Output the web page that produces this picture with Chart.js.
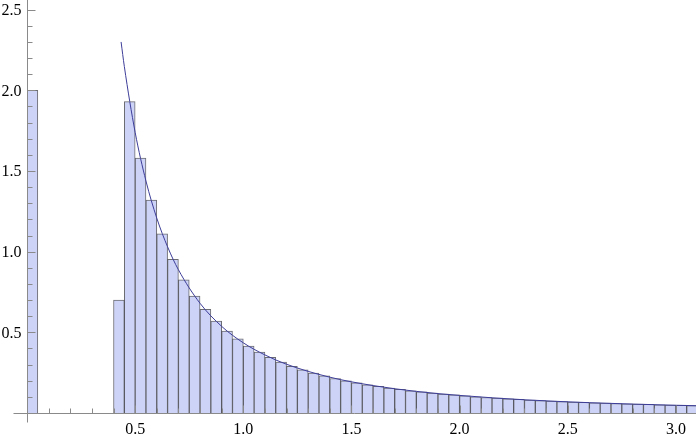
<!DOCTYPE html>
<html>
<head>
<meta charset="utf-8">
<script src="https://cdn.jsdelivr.net/npm/chart.js@4"></script>
<style>html,body{margin:0;padding:0;background:#fff;}canvas{display:block;}</style>
</head>
<body>
<canvas id="c" width="696" height="435"></canvas>
<script>
// Histogram bins: left edges and heights (bin width 0.05)
const binWidth = 0.05;
const binStarts = [0.00,
  0.40,0.45,0.50,0.55,0.60,0.65,0.70,0.75,0.80,0.85,0.90,0.95,
  1.00,1.05,1.10,1.15,1.20,1.25,1.30,1.35,1.40,1.45,1.50,1.55,
  1.60,1.65,1.70,1.75,1.80,1.85,1.90,1.95,2.00,2.05,2.10,2.15,
  2.20,2.25,2.30,2.35,2.40,2.45,2.50,2.55,2.60,2.65,2.70,2.75,
  2.80,2.85,2.90,2.95,3.00,3.05];
const binHeights = [2.00,
  0.70,1.93,1.58,1.32,1.11,0.953,0.826,0.725,0.642,0.570,0.508,0.460,
  0.415,0.377,0.345,0.315,0.290,0.268,0.248,0.230,0.214,0.200,0.187,0.175,
  0.165,0.155,0.146,0.138,0.131,0.124,0.117,0.112,0.106,0.101,0.096,0.092,
  0.088,0.084,0.080,0.077,0.074,0.071,0.068,0.066,0.063,0.061,0.059,0.057,
  0.055,0.053,0.051,0.049,0.048,0.046];
// Density curve
const curveX = [0.435,0.45,0.50,0.55,0.60,0.65,0.70,0.80,0.90,1.00,1.10,1.20,1.40,1.60,1.80,2.00,2.30,2.60,3.00,3.10];
const curveY = [2.30,2.148,1.74,1.438,1.208,1.030,0.888,0.680,0.537,0.435,0.360,0.302,0.222,0.170,0.134,0.109,0.082,0.064,0.048,0.045];
// Axis ranges and ticks
const xMin = 0, xMax = 3.093, yMin = 0, yMax = 2.56;
const xMinorTicks = [0.1,0.2,0.3,0.4,0.6,0.7,0.8,0.9,1.1,1.2,1.3,1.4,1.6,1.7,1.8,1.9,2.1,2.2,2.3,2.4,2.6,2.7,2.8,2.9,3.1];
const xMajorTicks = [0.5,1.0,1.5,2.0,2.5,3.0];
const xTickLabels = ['0.5','1.0','1.5','2.0','2.5','3.0'];
const yMinorTicks = [0.1,0.2,0.3,0.4,0.6,0.7,0.8,0.9,1.1,1.2,1.3,1.4,1.6,1.7,1.8,1.9,2.1,2.2,2.3,2.4];
const yMajorTicks = [0.5,1.0,1.5,2.0,2.5];
const yTickLabels = ['0.5','1.0','1.5','2.0','2.5'];

const barData = binStarts.map((s,i)=>({x: s + binWidth/2, y: binHeights[i]}));
const lineData = curveX.map((x,i)=>({x, y: curveY[i]}));

const axisColor = '#8a8a8a';
const labelFont = '16px "Liberation Serif", Tinos, "Times New Roman", "DejaVu Serif", serif';
const axesPlugin = {
  id: 'mmaAxes',
  afterDatasetsDraw(chart) {
    const ctx = chart.ctx;
    const xs = chart.scales.x, ys = chart.scales.y;
    const x0 = Math.round(xs.getPixelForValue(0)) + 0.5;
    const y0 = Math.round(ys.getPixelForValue(0)) + 0.5;
    ctx.save();
    ctx.strokeStyle = axisColor;
    ctx.lineWidth = 1;
    ctx.beginPath();
    ctx.moveTo(x0 - 14, y0); ctx.lineTo(chart.width, y0);
    ctx.moveTo(x0, 0); ctx.lineTo(x0, y0 + 9);
    const tick = (v, len, vertical) => {
      if (vertical) {
        const py = Math.round(ys.getPixelForValue(v)) + 0.5;
        ctx.moveTo(x0, py); ctx.lineTo(x0 + len, py);
      } else {
        const px = Math.round(xs.getPixelForValue(v)) + 0.5;
        ctx.moveTo(px, y0); ctx.lineTo(px, y0 - len);
      }
    };
    yMinorTicks.forEach(v => tick(v, 5, true));
    yMajorTicks.forEach(v => tick(v, 8, true));
    xMinorTicks.forEach(v => tick(v, 5, false));
    xMajorTicks.forEach(v => tick(v, 8, false));
    ctx.stroke();
    ctx.fillStyle = '#000';
    ctx.font = labelFont;
    ctx.textAlign = 'right';
    ctx.textBaseline = 'middle';
    yMajorTicks.forEach((v, i) => ctx.fillText(yTickLabels[i], x0 - 6, ys.getPixelForValue(v) + 1));
    ctx.textAlign = 'center';
    ctx.textBaseline = 'alphabetic';
    xMajorTicks.forEach((v, i) => ctx.fillText(xTickLabels[i], xs.getPixelForValue(v), y0 + 20));
    ctx.restore();
  }
};

new Chart(document.getElementById('c'), {
  type: 'bar',
  data: {
    datasets: [
      {
        type: 'line',
        data: lineData,
        borderColor: 'rgb(61,61,153)',
        borderWidth: 1,
        pointRadius: 0,
        cubicInterpolationMode: 'monotone',
        fill: false,
        order: 0
      },
      {
        type: 'bar',
        data: barData,
        backgroundColor: 'rgb(204,211,246)',
        borderColor: 'rgba(45,45,55,0.7)',
        borderWidth: 1,
        barPercentage: 1.0,
        categoryPercentage: 1.0,
        order: 1
      }
    ]
  },
  options: {
    responsive: false,
    animation: false,
    devicePixelRatio: 1,
    layout: { padding: 0 },
    plugins: { legend: { display: false }, tooltip: { enabled: false } },
    scales: {
      x: {
        type: 'linear',
        min: xMin, max: xMax,
        offset: false,
        grid: { display: false, drawTicks: false },
        border: { display: false },
        ticks: { display: false },
        afterFit: s => { s.height = 22; }
      },
      y: {
        type: 'linear',
        min: yMin, max: yMax,
        grid: { display: false, drawTicks: false },
        border: { display: false },
        ticks: { display: false },
        afterFit: s => { s.width = 27; }
      }
    }
  },
  plugins: [axesPlugin]
});
</script>
</body>
</html>
